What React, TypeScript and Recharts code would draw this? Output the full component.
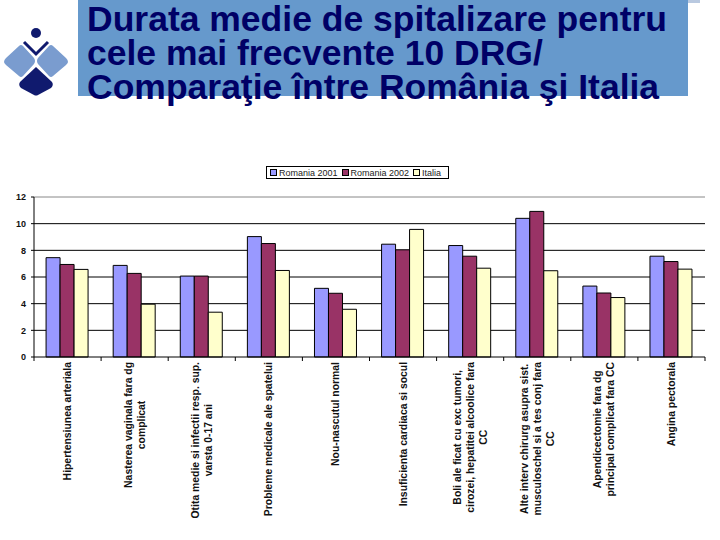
import { Bar, BarChart, CartesianGrid, Legend, ReferenceLine, XAxis, YAxis } from "recharts";

const categories = [
  "Hipertensiunea arteriala",
  "Nasterea vaginala fara dg\ncomplicat",
  "Otita medie si infectii resp. sup.\nvarsta 0-17 ani",
  "Probleme medicale ale spatelui",
  "Nou-nascutul normal",
  "Insuficienta cardiaca si socul",
  "Boli ale ficat cu exc tumori,\ncirozei, hepatitei alcoolice fara\nCC",
  "Alte interv chirurg asupra sist.\nmusculoschel si a tes conj fara\nCC",
  "Apendicectomie fara dg\nprincipal complicat fara CC",
  "Angina pectorala",
];
const romania2001 = [7.45, 6.87, 6.07, 9.03, 5.15, 8.46, 8.36, 10.4, 5.32, 7.56];
const romania2002 = [6.94, 6.27, 6.07, 8.51, 4.78, 8.04, 7.56, 10.92, 4.8, 7.16];
const italia = [6.57, 3.96, 3.36, 6.49, 3.58, 9.57, 6.66, 6.47, 4.46, 6.59];
const seriesNames = ["Romania 2001", "Romania 2002", "Italia"];
const yTicks = [0, 2, 4, 6, 8, 10, 12];
const titleLines = [
  "Durata medie de spitalizare pentru",
  "cele mai frecvente 10 DRG/",
  "Comparaţie între România şi Italia",
];

const FONT = "'Liberation Sans', Arial, sans-serif";
const LABEL_FONT = `bold 10.4px ${FONT}`;

let measureCtx: CanvasRenderingContext2D | null = null;
function textWidth(s: string) {
  if (!measureCtx) measureCtx = document.createElement("canvas").getContext("2d");
  if (!measureCtx) return s.length * 5.5;
  measureCtx.font = LABEL_FONT;
  return measureCtx.measureText(s).width;
}

const data = categories.map((name, i) => ({
  name,
  [seriesNames[0]]: romania2001[i],
  [seriesNames[1]]: romania2002[i],
  [seriesNames[2]]: italia[i],
}));

function CategoryTick(props: any) {
  const { x, y, payload, index } = props;
  const half = payload.offset ?? 33.5;
  const lines = String(payload.value).split("\n");
  const w = Math.max(...lines.map(textWidth));
  return (
    <g>
      <line x1={x - half} y1={y} x2={x - half} y2={y + 4} stroke="#000" />
      {index === categories.length - 1 && <line x1={x + half} y1={y} x2={x + half} y2={y + 4} stroke="#000" />}
      <g transform={`translate(${x},${y + 5}) rotate(-90)`}>
        {lines.map((l, i) => (
          <text
            key={i}
            x={-w / 2}
            y={(i - (lines.length - 1) / 2) * 13}
            textAnchor="middle"
            dominantBaseline="central"
            fill="#111"
            style={{ font: LABEL_FONT }}
          >
            {l}
          </text>
        ))}
      </g>
    </g>
  );
}

function LegendBox({ payload }: any) {
  const items = [...(payload || [])].sort(
    (a: any, b: any) => seriesNames.indexOf(a.value) - seriesNames.indexOf(b.value)
  );
  return (
    <div
      style={{
        display: "flex",
        alignItems: "center",
        border: "1px solid #000",
        padding: "0 3px",
        height: 11,
        fontFamily: FONT,
        fontSize: 9,
        color: "#222",
        background: "#fff",
        whiteSpace: "nowrap",
      }}
    >
      {items.map((p: any) => (
        <span key={p.value} style={{ display: "flex", alignItems: "center", marginRight: 4 }}>
          <span style={{ width: 5, height: 5, background: p.color, border: "1px solid #000", marginRight: 2 }} />
          {p.value}
        </span>
      ))}
    </div>
  );
}

function Logo() {
  return (
    <g>
      <path d="M4 62 Q4 60 6 58 L19 46 Q21 44 23 46 L34 58 Q36 61 34 64 L23 76 Q21 78 19 76 L6 65 Q4 63 4 62 Z" fill="#7a9ccf" />
      <path d="M68 62 Q68 60 66 58 L53 46 Q51 44 49 46 L38 58 Q36 61 38 64 L49 76 Q51 78 53 76 L66 65 Q68 63 68 62 Z" fill="#7a9ccf" />
      <path d="M36 67 L52 82 Q54 85 51 88 L38 95 Q36 96 34 95 L21 88 Q18 85 20 82 Z" fill="#101a6e" />
      <circle cx={36} cy={33} r={5} fill="#101a6e" />
      <path d="M24 42 L36 54 L48 42" fill="none" stroke="#101a6e" strokeWidth={3} />
    </g>
  );
}

export default function App() {
  return (
    <div style={{ position: "fixed", left: 0, top: 0, width: 720, height: 540, background: "#fff" }}>
      <svg width={720} height={110} style={{ position: "absolute", left: 0, top: 0 }}>
        <rect x={687} y={0} width={13} height={3} fill="#b9c9e0" />
        <rect x={78} y={0} width={610} height={96} fill="#6699cc" />
        <Logo />
        <text fill="#000066" fontFamily={FONT} fontWeight="bold" fontSize={35.5}>
          {titleLines.map((t, i) => (
            <tspan key={i} x={87} y={31 + i * 34}>
              {t}
            </tspan>
          ))}
        </text>
      </svg>
      <div style={{ position: "absolute", left: 0, top: 0 }}>
        <BarChart
          width={720}
          height={540}
          data={data}
          margin={{ top: 197, right: 15, bottom: 0, left: 0 }}
          barCategoryGap="18%"
          barGap={0}
        >
          <CartesianGrid vertical={false} stroke="#000" horizontalValues={[2, 4, 6, 8, 10]} />
          <ReferenceLine y={12} stroke="#888" />
          <XAxis
            dataKey="name"
            interval={0}
            height={183}
            tickLine={false}
            tickSize={0}
            tickMargin={0}
            axisLine={{ stroke: "#000" }}
            tick={<CategoryTick />}
          />
          <YAxis
            width={34}
            domain={[0, 12]}
            ticks={yTicks}
            tickSize={3}
            tickMargin={5}
            axisLine={{ stroke: "#000" }}
            tickLine={{ stroke: "#000" }}
            tick={{ fill: "#111", fontSize: 9, fontWeight: "bold", fontFamily: FONT }}
          />
          <Legend
            layout="horizontal"
            verticalAlign="middle"
            align="center"
            content={<LegendBox />}
            wrapperStyle={{ position: "absolute", top: 166, left: 266, width: "auto", height: "auto" }}
          />
          <Bar dataKey={seriesNames[0]} fill="#9999ff" stroke="#000" strokeWidth={1} isAnimationActive={false} />
          <Bar dataKey={seriesNames[1]} fill="#993366" stroke="#000" strokeWidth={1} isAnimationActive={false} />
          <Bar dataKey={seriesNames[2]} fill="#ffffcc" stroke="#000" strokeWidth={1} isAnimationActive={false} />
        </BarChart>
      </div>
    </div>
  );
}
